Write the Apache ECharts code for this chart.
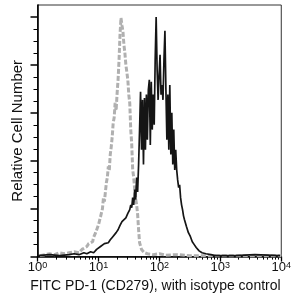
<!DOCTYPE html>
<html>
<head>
<meta charset="utf-8">
<script src="https://cdn.jsdelivr.net/npm/echarts@6/dist/echarts.min.js"></script>
<style>
  html, body { margin: 0; padding: 0; background: #fff; }
  #chart { width: 294px; height: 298px; }
</style>
</head>
<body>
<div id="chart"></div>
<script>
// fluorescence positions are given in decades (log10), counts in cells per channel
var isoLog = [0.04, 0.12, 0.2, 0.28, 0.36, 0.44, 0.52, 0.6, 0.68, 0.73,
  0.76, 0.81, 0.84, 0.87, 0.905, 0.92, 0.954, 0.97, 1.002, 1.034,
  1.066, 1.082, 1.098, 1.13, 1.146, 1.162, 1.178, 1.194, 1.21, 1.226,
  1.242, 1.258, 1.274, 1.29, 1.306, 1.322, 1.338, 1.354, 1.37, 1.386,
  1.402, 1.418, 1.434, 1.45, 1.466, 1.482, 1.498, 1.514, 1.53, 1.546,
  1.562, 1.579, 1.595, 1.611, 1.627, 1.643, 1.659, 1.675, 1.691, 1.707,
  1.755, 1.803, 1.9, 2.0, 2.1, 2.3, 2.5, 3.0, 3.5, 4.0];
var isoCount = [2, 4, 6, 4, 8, 6, 8, 10, 8, 15,
  12, 21, 27, 25, 31, 40, 50, 46, 67, 83,
  100, 123, 115, 154, 165, 188, 180, 213, 229, 250,
  279, 290, 321, 305, 340, 369, 410, 463, 498, 483,
  470, 442, 425, 400, 385, 369, 338, 320, 265, 235,
  181, 165, 140, 120, 108, 88, 56, 29, 22, 15,
  8, 6, 4, 6, 3, 4, 2, 2, 2, 2];

var pdLog = [0.008, 0.2, 0.361, 0.521, 0.601, 0.681, 0.761, 0.809, 0.873, 0.921,
  0.97, 1.002, 1.034, 1.066, 1.098, 1.13, 1.162, 1.194, 1.226, 1.258,
  1.29, 1.322, 1.354, 1.386, 1.418, 1.45, 1.482, 1.514, 1.53, 1.546,
  1.562, 1.579, 1.595, 1.611, 1.627, 1.643, 1.659, 1.675, 1.691, 1.707,
  1.723, 1.739, 1.755, 1.771, 1.787, 1.803, 1.819, 1.835, 1.851, 1.867,
  1.883, 1.899, 1.915, 1.931, 1.947, 1.963, 1.979, 1.995, 2.011, 2.027,
  2.043, 2.059, 2.075, 2.091, 2.107, 2.123, 2.139, 2.155, 2.171, 2.188,
  2.204, 2.22, 2.236, 2.252, 2.268, 2.284, 2.3, 2.316, 2.332, 2.348,
  2.364, 2.38, 2.396, 2.412, 2.444, 2.476, 2.508, 2.54, 2.572, 2.604,
  2.652, 2.7, 2.764, 2.845, 2.925, 3.245, 3.566, 3.98];
var pdCount = [2, 4, 2, 4, 6, 4, 8, 6, 10, 8,
  15, 12, 21, 19, 27, 25, 29, 35, 40, 44,
  50, 56, 65, 73, 69, 81, 90, 98, 108, 102,
  123, 108, 140, 119, 165, 135, 192, 265, 344, 223,
  327, 192, 331, 223, 338, 244, 348, 369, 233, 365,
  265, 338, 275, 410, 500, 390, 327, 379, 421, 338,
  358, 327, 410, 471, 348, 244, 338, 223, 358, 213,
  300, 192, 265, 181, 223, 181, 160, 144, 150, 123,
  108, 98, 85, 77, 63, 50, 42, 31, 25, 19,
  12, 8, 6, 4, 2, 2, 4, 2];

var xTicks = [1, 10, 100, 1000, 10000];
var xTickExp = ['0', '1', '2', '3', '4'];
var yTicks = [0, 100, 200, 300, 400, 500];

var xMinor = [];
for (var d = 1; d < 10000; d *= 10) {
  for (var k = 2; k < 10; k++) xMinor.push(k * d);
}
var yMinor = [];
for (var v = 25; v < 500; v += 25) {
  if (v % 100 !== 0) yMinor.push(v);
}

function pairs(logs, counts) {
  return logs.map(function (l, i) { return [Math.pow(10, l), counts[i]]; });
}

var chart = echarts.init(document.getElementById('chart'));
var option = {
  animation: false,
  backgroundColor: '#fff',
  textStyle: { fontFamily: 'Liberation Sans, Arial, sans-serif' },
  grid: {
    left: 37.5, right: 7, top: 5, bottom: 41,
    show: true, borderColor: '#333', borderWidth: 1
  },
  xAxis: [
    {
      type: 'log', logBase: 10, min: 1, max: 10000,
      name: 'FITC PD-1 (CD279), with isotype control',
      nameLocation: 'middle', nameGap: 22,
      nameTextStyle: { fontSize: 14, color: '#111', padding: [0, 8, 0, 0] },
      axisLine: { lineStyle: { color: '#000', width: 1.6 } },
      axisTick: { customValues: xTicks, length: 5, lineStyle: { color: '#000', width: 1.3 } },
      axisLabel: {
        customValues: xTicks, margin: 4, color: '#111',
        formatter: function (val) {
          return '{b|10}{s|' + xTickExp[xTicks.indexOf(val)] + '}';
        },
        rich: {
          b: { fontSize: 13, lineHeight: 14 },
          s: { fontSize: 9, lineHeight: 14, verticalAlign: 'top' }
        }
      },
      splitLine: { show: false }
    },
    {
      type: 'log', logBase: 10, min: 1, max: 10000, position: 'bottom',
      axisLine: { show: false },
      axisTick: { customValues: xMinor, length: 3, lineStyle: { color: '#000', width: 1 } },
      axisLabel: { show: false },
      splitLine: { show: false }
    }
  ],
  yAxis: [
    {
      type: 'value', min: 0, max: 525,
      name: 'Relative Cell Number',
      nameLocation: 'middle', nameGap: 12,
      nameTextStyle: { fontSize: 15, color: '#111' },
      axisLine: { show: true, lineStyle: { color: '#000', width: 1.6 } },
      axisTick: { show: true, customValues: yTicks, length: 7, lineStyle: { color: '#000', width: 1.5 } },
      axisLabel: { show: false },
      splitLine: { show: false }
    },
    {
      type: 'value', min: 0, max: 525, position: 'left',
      axisLine: { show: false },
      axisTick: { show: true, customValues: yMinor, length: 4, lineStyle: { color: '#000', width: 1 } },
      axisLabel: { show: false },
      splitLine: { show: false }
    }
  ],
  series: [
    {
      name: 'isotype',
      type: 'line',
      showSymbol: false,
      data: pairs(isoLog, isoCount),
      lineStyle: { color: '#b0b0b0', width: 3, type: [5, 2] }
    },
    {
      name: 'PD-1',
      type: 'line',
      showSymbol: false,
      data: pairs(pdLog, pdCount),
      lineStyle: { color: '#151515', width: 1.7 }
    }
  ]
};
chart.setOption(option);
</script>
</body>
</html>
